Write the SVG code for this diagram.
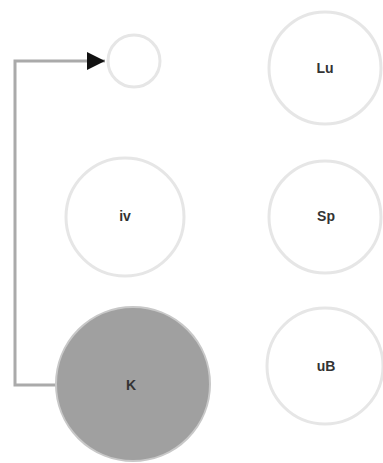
<svg xmlns="http://www.w3.org/2000/svg" width="383" height="463" viewBox="0 0 383 463">
<style>
.n{fill:#fff;stroke:#e6e6e6;stroke-width:3}
.f{fill:#a0a0a0;stroke:#c8c8c8;stroke-width:2}
.t{font-family:"Liberation Sans",Arial,sans-serif;font-size:14px;font-weight:bold;fill:#333;text-anchor:middle;dominant-baseline:central}
.e{fill:none;stroke:#aaa;stroke-width:3}
</style>
<defs>
<marker id="a" viewBox="0 0 10 10" refX="10" refY="5" markerWidth="24" markerHeight="18" markerUnits="userSpaceOnUse" orient="auto">
<path d="M0,0L10,5L0,10z" fill="#111"/>
</marker>
</defs>
<rect width="383" height="463" fill="#fff"/>
<g id="connectors">
<path class="e" d="M56,385H15V61H105" marker-end="url(#a)"/>
</g>
<g id="n1"><circle class="n" cx="134" cy="61" r="26"/></g>
<g id="n2"><circle class="n" cx="325" cy="68" r="56"/><text class="t" x="325" y="68">Lu</text></g>
<g id="n3"><circle class="n" cx="125" cy="217" r="59"/><text class="t" x="125" y="216">iv</text></g>
<g id="n4"><circle class="n" cx="325" cy="217" r="56"/><text class="t" x="326" y="216">Sp</text></g>
<g id="n5"><circle class="f" cx="133" cy="384" r="77"/><text class="t" x="131" y="385">K</text></g>
<g id="n6"><circle class="n" cx="325" cy="366" r="58"/><text class="t" x="326" y="366">uB</text></g>
</svg>
